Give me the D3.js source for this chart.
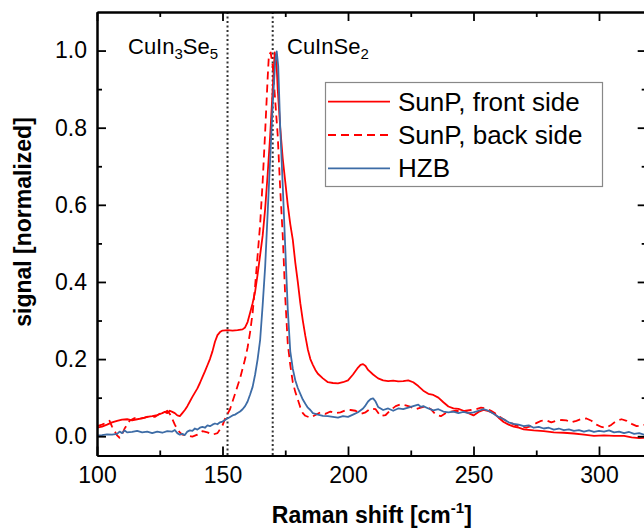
<!DOCTYPE html>
<head>
    <meta charset="UTF-8">
    <script src="https://cdnjs.cloudflare.com/ajax/libs/d3/7.8.5/d3.min.js"></script>
    <style>
        body { margin: 0; background: #fff; }
        text { font-family: "Liberation Sans", Arial, sans-serif; }
    </style>
</head>
<body>
    <svg id="raman"></svg>

    <script>
        //********** DATOS *********************

        // SunP, front side  [Raman shift, signal]
        var frontSide = [
            [100, 0.022], [102, 0.025], [104, 0.030], [106, 0.036], [108, 0.040], [110, 0.043],
            [112, 0.044], [114, 0.041], [116, 0.044], [118, 0.046], [120, 0.050], [122, 0.052],
            [124, 0.055], [126, 0.060], [127, 0.063], [128, 0.060], [129, 0.066], [130, 0.063],
            [131, 0.060], [132, 0.054], [133, 0.052], [134, 0.060], [135, 0.068], [136, 0.078],
            [137, 0.090], [138, 0.102], [139, 0.113], [140, 0.124], [141, 0.138], [142, 0.153],
            [143, 0.168], [144, 0.184], [145, 0.200], [146, 0.220], [147, 0.245], [148, 0.262],
            [149, 0.270], [150, 0.274], [152, 0.275], [154, 0.274], [156, 0.275], [158, 0.277],
            [159, 0.282], [160, 0.296], [161, 0.320], [162, 0.345], [163, 0.375], [164, 0.420],
            [165, 0.470], [166, 0.520], [167, 0.590], [168, 0.680], [169, 0.780], [170, 0.900],
            [170.8, 0.995], [171.5, 0.970], [172, 0.900], [173, 0.800], [174, 0.720], [175, 0.660],
            [176, 0.600], [177, 0.550], [178, 0.510], [179, 0.450], [180, 0.400], [181, 0.345],
            [182, 0.300], [183, 0.260], [184, 0.225], [185, 0.200], [186, 0.185], [187, 0.172],
            [188, 0.162], [190, 0.150], [192, 0.140], [194, 0.138], [196, 0.137], [198, 0.140],
            [200, 0.145], [202, 0.160], [204, 0.178], [205, 0.185], [206, 0.187], [207, 0.182],
            [208, 0.172], [210, 0.160], [212, 0.150], [214, 0.145], [216, 0.143], [218, 0.144],
            [220, 0.142], [222, 0.143], [224, 0.145], [226, 0.140], [228, 0.130], [230, 0.118],
            [232, 0.110], [234, 0.107], [236, 0.100], [238, 0.088], [240, 0.077], [242, 0.072],
            [244, 0.071], [246, 0.066], [248, 0.060], [250, 0.054], [252, 0.063], [254, 0.068],
            [256, 0.065], [258, 0.060], [260, 0.048], [262, 0.037], [264, 0.030], [266, 0.025],
            [268, 0.022], [270, 0.018], [274, 0.015], [278, 0.013], [282, 0.010], [286, 0.009],
            [290, 0.007], [294, 0.004], [298, 0.001], [302, 0.002], [306, 0.001], [310, 0.001],
            [313, -0.003], [316, -0.005], [320, -0.004]
        ];

        // SunP, back side
        var backSide = [
            [100, 0.026], [102, 0.030], [104, 0.036], [105, 0.040], [106, 0.025], [108, 0.002],
            [109, -0.004], [110, 0.005], [111, 0.020], [112, 0.030], [113, 0.040], [115, 0.047],
            [117, 0.046], [119, 0.048], [121, 0.052], [123, 0.050], [125, 0.058], [127, 0.062],
            [128, 0.066], [129, 0.058], [130, 0.045], [131, 0.030], [132, 0.018], [133, 0.010],
            [134, 0.004], [136, 0.002], [138, -0.001], [140, 0.004], [142, 0.013], [144, 0.010],
            [146, 0.004], [148, 0.008], [150, 0.028], [151, 0.045], [152, 0.058], [153, 0.070],
            [154, 0.090], [155, 0.110], [156, 0.130], [157, 0.150], [158, 0.175], [159, 0.200],
            [160, 0.230], [161, 0.270], [162, 0.320], [163, 0.390], [164, 0.470], [165, 0.550],
            [166, 0.660], [167, 0.790], [168, 0.930], [168.5, 0.990], [169.2, 0.995], [170, 0.960],
            [171, 0.870], [172, 0.780], [173, 0.640], [174, 0.520], [175, 0.360], [176, 0.240],
            [177, 0.185], [178, 0.140], [179, 0.115], [180, 0.095], [181, 0.075], [182, 0.060],
            [183, 0.053], [185, 0.048], [187, 0.055], [189, 0.062], [191, 0.058], [193, 0.064],
            [195, 0.060], [197, 0.062], [199, 0.067], [201, 0.068], [203, 0.066], [205, 0.058],
            [207, 0.062], [209, 0.072], [211, 0.070], [213, 0.052], [215, 0.055], [217, 0.068],
            [219, 0.078], [221, 0.083], [223, 0.080], [225, 0.076], [227, 0.070], [229, 0.074],
            [231, 0.078], [233, 0.070], [235, 0.056], [237, 0.052], [239, 0.060], [241, 0.064],
            [243, 0.066], [245, 0.064], [247, 0.066], [249, 0.068], [251, 0.070], [253, 0.074],
            [255, 0.072], [257, 0.066], [259, 0.058], [261, 0.048], [263, 0.040], [265, 0.034],
            [267, 0.028], [269, 0.024], [271, 0.022], [273, 0.026], [275, 0.034], [277, 0.040],
            [279, 0.041], [281, 0.036], [283, 0.040], [285, 0.042], [287, 0.041], [289, 0.036],
            [291, 0.040], [293, 0.045], [295, 0.046], [297, 0.040], [299, 0.030], [301, 0.024],
            [303, 0.022], [305, 0.030], [307, 0.040], [309, 0.044], [311, 0.040], [313, 0.032],
            [315, 0.026], [317, 0.028], [320, 0.032]
        ];

        // HZB
        var hzb = [
            [100, 0.002], [102, 0.003], [104, 0.005], [106, 0.004], [108, 0.006], [109, 0.012],
            [110, 0.008], [111, 0.015], [112, 0.010], [114, 0.011], [116, 0.014], [118, 0.010],
            [120, 0.012], [122, 0.008], [124, 0.012], [126, 0.009], [128, 0.013], [130, 0.012],
            [131, 0.016], [132, 0.008], [133, 0.004], [134, 0.006], [135, 0.003], [136, 0.012],
            [137, 0.015], [138, 0.014], [139, 0.020], [140, 0.017], [141, 0.022], [142, 0.024],
            [143, 0.022], [144, 0.028], [145, 0.026], [146, 0.030], [147, 0.033], [148, 0.031],
            [149, 0.036], [150, 0.038], [151, 0.042], [152, 0.046], [153, 0.050], [154, 0.054],
            [155, 0.056], [156, 0.060], [157, 0.064], [158, 0.070], [159, 0.078], [160, 0.090],
            [161, 0.108], [162, 0.128], [163, 0.160], [164, 0.200], [165, 0.250], [166, 0.340],
            [167, 0.440], [168, 0.580], [169, 0.720], [170, 0.860], [171, 0.970], [171.6, 0.998],
            [172.2, 0.960], [173, 0.800], [174, 0.650], [175, 0.490], [176, 0.330], [177, 0.220],
            [178, 0.175], [179, 0.145], [180, 0.125], [181, 0.110], [182, 0.095], [183, 0.084],
            [184, 0.074], [185, 0.068], [186, 0.060], [187, 0.058], [188, 0.056], [190, 0.053],
            [192, 0.052], [194, 0.050], [196, 0.048], [198, 0.052], [200, 0.050], [202, 0.056],
            [204, 0.062], [206, 0.072], [207, 0.080], [208, 0.090], [209, 0.096], [210, 0.098],
            [211, 0.090], [212, 0.076], [213, 0.072], [214, 0.068], [216, 0.072], [218, 0.066],
            [220, 0.072], [222, 0.070], [224, 0.074], [226, 0.078], [228, 0.082], [229, 0.076],
            [230, 0.078], [232, 0.072], [234, 0.067], [236, 0.070], [238, 0.064], [240, 0.062],
            [242, 0.064], [244, 0.060], [246, 0.063], [248, 0.060], [250, 0.062], [252, 0.066],
            [254, 0.070], [256, 0.066], [258, 0.058], [260, 0.050], [262, 0.044], [264, 0.036],
            [266, 0.032], [268, 0.030], [270, 0.026], [272, 0.028], [274, 0.022], [276, 0.024],
            [278, 0.020], [280, 0.022], [282, 0.017], [284, 0.020], [286, 0.016], [288, 0.018],
            [290, 0.014], [292, 0.016], [294, 0.012], [296, 0.015], [298, 0.011], [300, 0.014],
            [302, 0.012], [304, 0.015], [306, 0.010], [308, 0.012], [310, 0.008], [312, 0.011],
            [314, 0.006], [316, 0.008], [318, 0.004], [320, 0.006]
        ];

        var seriesNames = ["SunP, front side", "SunP, back side", "HZB"];
        var xTicks = [100, 150, 200, 250, 300];
        var xMinorTicks = [125, 175, 225, 275];
        var yTicks = [0.0, 0.2, 0.4, 0.6, 0.8, 1.0];
        var yMinorTicks = [0.1, 0.3, 0.5, 0.7, 0.9];
        var phaseLines = [152, 170];   // CuIn3Se5, CuInSe2

        //********** DEFINICIONES *********************

        var width = 644, height = 531;
        var plotLeft = 97, plotTop = 12, plotBottom = 455.5;
        var xMax = 319;
        var plotRight = plotLeft + 2.51 * (xMax - 100);

        var red = "#ff0000", blue = "#3d6ca6";
        var styles = [
            { color: red, dash: null },
            { color: red, dash: "8,5" },
            { color: blue, dash: null }
        ];

        var x = d3.scaleLinear().domain([100, xMax]).range([plotLeft, plotRight]);
        var y = d3.scaleLinear().domain([-0.05, 1.1]).range([plotBottom, plotTop]);

        var svg = d3.select("#raman")
            .attr("width", width)
            .attr("height", height)
            .style("display", "block");

        svg.append("rect").attr("width", width).attr("height", height).attr("fill", "#fff");

        svg.append("clipPath").attr("id", "plotClip")
            .append("rect")
            .attr("x", plotLeft).attr("y", plotTop)
            .attr("width", plotRight - plotLeft).attr("height", plotBottom - plotTop);

        //********** LINEAS VERTICALES *********************

        svg.append("g").selectAll("line")
            .data(phaseLines)
            .enter()
            .append("line")
            .attr("x1", function (d) { return x(d); })
            .attr("x2", function (d) { return x(d); })
            .attr("y1", plotTop)
            .attr("y2", plotBottom)
            .attr("stroke", "#333")
            .attr("stroke-width", 2)
            .attr("stroke-dasharray", "2,2.5");

        //********** CURVAS *********************

        var line = d3.line()
            .x(function (d) { return x(d[0]); })
            .y(function (d) { return y(d[1]); });

        var curves = [frontSide, backSide, hzb];

        svg.append("g").attr("clip-path", "url(#plotClip)")
            .selectAll("path")
            .data(curves)
            .enter()
            .append("path")
            .attr("d", line)
            .attr("fill", "none")
            .attr("stroke", function (d, i) { return styles[i].color; })
            .attr("stroke-width", 1.8)
            .attr("stroke-dasharray", function (d, i) { return styles[i].dash; })
            .attr("stroke-linejoin", "round");

        //********** EJES *********************

        function styleAxis(g) {
            g.select(".domain").attr("stroke", "#000").attr("stroke-width", 2);
            g.selectAll(".tick line").attr("stroke", "#000").attr("stroke-width", 1.8);
            g.selectAll("text").attr("font-size", 23).attr("fill", "#000")
                .style("font-family", "'Liberation Sans', Arial, sans-serif");
        }

        // abajo
        svg.append("g").attr("transform", "translate(0," + plotBottom + ")")
            .call(d3.axisBottom(x).tickValues(xTicks).tickSize(-9).tickSizeOuter(0).tickPadding(11))
            .call(styleAxis);
        svg.append("g").attr("transform", "translate(0," + plotBottom + ")")
            .call(d3.axisBottom(x).tickValues(xMinorTicks).tickSize(-5).tickSizeOuter(0).tickFormat(""))
            .call(styleAxis);

        // arriba
        svg.append("g").attr("transform", "translate(0," + plotTop + ")")
            .call(d3.axisTop(x).tickValues(xTicks).tickSize(-9).tickSizeOuter(0).tickFormat(""))
            .call(styleAxis);
        svg.append("g").attr("transform", "translate(0," + plotTop + ")")
            .call(d3.axisTop(x).tickValues(xMinorTicks).tickSize(-5).tickSizeOuter(0).tickFormat(""))
            .call(styleAxis);

        // izquierda
        svg.append("g").attr("transform", "translate(" + plotLeft + ",0)")
            .call(d3.axisLeft(y).tickValues(yTicks).tickSize(-9).tickSizeOuter(0).tickPadding(10)
                .tickFormat(d3.format(".1f")))
            .call(styleAxis);
        svg.append("g").attr("transform", "translate(" + plotLeft + ",0)")
            .call(d3.axisLeft(y).tickValues(yMinorTicks).tickSize(-5).tickSizeOuter(0).tickFormat(""))
            .call(styleAxis);

        // derecha
        svg.append("g").attr("transform", "translate(" + plotRight + ",0)")
            .call(d3.axisRight(y).tickValues(yTicks).tickSize(-9).tickSizeOuter(0).tickFormat(""))
            .call(styleAxis);
        svg.append("g").attr("transform", "translate(" + plotRight + ",0)")
            .call(d3.axisRight(y).tickValues(yMinorTicks).tickSize(-5).tickSizeOuter(0).tickFormat(""))
            .call(styleAxis);

        // titulos
        var xTitle = svg.append("text")
            .attr("x", (plotLeft + plotRight) / 2)
            .attr("y", 523)
            .attr("text-anchor", "middle")
            .attr("font-size", 23)
            .attr("font-weight", "bold");
        xTitle.append("tspan").text("Raman shift [cm");
        xTitle.append("tspan").attr("font-size", 15).attr("dy", -10).text("-1");
        xTitle.append("tspan").attr("dy", 10).text("]");

        svg.append("text")
            .attr("transform", "translate(31,222) rotate(-90)")
            .attr("text-anchor", "middle")
            .attr("font-size", 23)
            .attr("font-weight", "bold")
            .text("signal [normalized]");

        //********** ANOTACIONES *********************

        function formula(xPos, parts) {
            var t = svg.append("text").attr("x", xPos).attr("y", 54).attr("font-size", 22);
            parts.forEach(function (p) {
                if (p.sub) {
                    t.append("tspan").attr("font-size", 15).attr("dy", 5).text(p.s);
                } else {
                    t.append("tspan").attr("dy", p.back ? -5 : 0).text(p.s);
                }
            });
        }

        formula(128, [{ s: "CuIn" }, { s: "3", sub: true }, { s: "Se", back: true }, { s: "5", sub: true }]);
        formula(287, [{ s: "CuInSe" }, { s: "2", sub: true }]);

        //********** LEYENDA *********************

        var legend = svg.append("g");
        legend.append("rect")
            .attr("x", 325.5).attr("y", 82.5)
            .attr("width", 277).attr("height", 104)
            .attr("fill", "#fff")
            .attr("stroke", "#888")
            .attr("stroke-width", 1.2);

        var rows = legend.selectAll("g.row")
            .data(seriesNames)
            .enter()
            .append("g")
            .attr("class", "row")
            .attr("transform", function (d, i) { return "translate(0," + (101.7 + i * 33.3) + ")"; });

        rows.append("line")
            .attr("x1", 328).attr("x2", 390)
            .attr("stroke", function (d, i) { return styles[i].color; })
            .attr("stroke-width", 1.8)
            .attr("stroke-dasharray", function (d, i) { return styles[i].dash; });

        rows.append("text")
            .attr("x", 398)
            .attr("y", 8.8)
            .attr("font-size", 26)
            .text(function (d) { return d; });
    </script>
</body>
